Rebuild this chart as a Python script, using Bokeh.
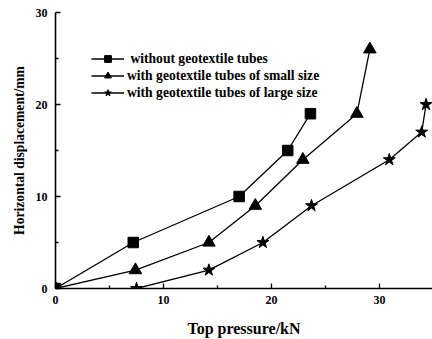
from bokeh.plotting import figure
from bokeh.models import Range1d, FixedTicker, Legend, LegendItem
from bokeh.embed import file_html
from bokeh.resources import INLINE

# Data
sq_x = [0, 7.2, 17.0, 21.5, 23.6]
sq_y = [0, 5, 10, 15, 19]
tri_x = [0, 7.4, 14.2, 18.5, 22.9, 27.9, 29.1]
tri_y = [0, 2, 5, 9, 14, 19, 26]
star_x = [7.5, 14.2, 19.2, 23.7, 30.9, 33.9, 34.3]
star_y = [0, 2, 5, 9, 14, 17, 20]
labels = [" without geotextile tubes",
          "with geotextile tubes of small size",
          "with geotextile tubes of large size"]
x_ticks = [0, 10, 20, 30]
y_ticks = [0, 10, 20, 30]

FONT = "Liberation Serif"

p = figure(width=432, height=339, output_backend="svg", toolbar_location=None,
           x_range=Range1d(0, 34.9), y_range=Range1d(0, 30),
           min_border_left=55, min_border_right=0, min_border_top=12, min_border_bottom=51)
p.outline_line_color = None
p.grid.visible = False

for ax in (p.xaxis[0], p.yaxis[0]):
    ax.axis_line_width = 1.6
    ax.axis_line_color = "black"
    ax.major_tick_in = 5
    ax.major_tick_out = 0
    ax.minor_tick_in = 3
    ax.minor_tick_out = 0
    ax.major_tick_line_width = 1.3
    ax.minor_tick_line_width = 1.3
    ax.major_label_text_font = FONT
    ax.major_label_text_font_style = "bold"
    ax.major_label_text_font_size = "12px"
    ax.major_label_text_color = "black"
    ax.axis_label_text_font = FONT
    ax.axis_label_text_font_style = "bold"
    ax.axis_label_text_color = "black"

p.xaxis.ticker = FixedTicker(ticks=x_ticks, minor_ticks=[5, 15, 25, 35])
p.yaxis.ticker = FixedTicker(ticks=y_ticks, minor_ticks=[5, 15, 25])
p.xaxis.axis_label = "Top pressure/kN"
p.yaxis.axis_label = "Horizontal displacement/mm"
p.xaxis.axis_label_text_font_size = "16px"
p.yaxis.axis_label_text_font_size = "13.6px"
p.xaxis.major_label_standoff = 7
p.yaxis.major_label_standoff = 8
p.xaxis.axis_label_standoff = 13
p.yaxis.axis_label_standoff = 6

l1 = p.line(sq_x, sq_y, line_color="black", line_width=1.3)
m1 = p.scatter(sq_x, sq_y, marker="square", size=10.5, color="black")
l2 = p.line(tri_x, tri_y, line_color="black", line_width=1.3)
m2 = p.scatter(tri_x, tri_y, marker="triangle", size=12.5, color="black")
l3 = p.line(star_x, star_y, line_color="black", line_width=1.3)
m3 = p.scatter(star_x, star_y, marker="star", size=12.5, color="black")

legend = Legend(items=[
    LegendItem(label=labels[0], renderers=[l1, m1]),
    LegendItem(label=labels[1], renderers=[l2, m2]),
    LegendItem(label=labels[2], renderers=[l3, m3]),
], location=(36, 187))
legend.border_line_color = None
legend.background_fill_alpha = 0
legend.padding = 5
legend.spacing = -2
legend.glyph_width = 33
legend.glyph_height = 17
legend.label_height = 17
legend.label_standoff = 3
legend.label_text_font = FONT
legend.label_text_font_style = "bold"
legend.label_text_font_size = "13.6px"
legend.label_text_color = "black"
p.add_layout(legend)

open("out.html", "w").write(file_html(p, INLINE))
